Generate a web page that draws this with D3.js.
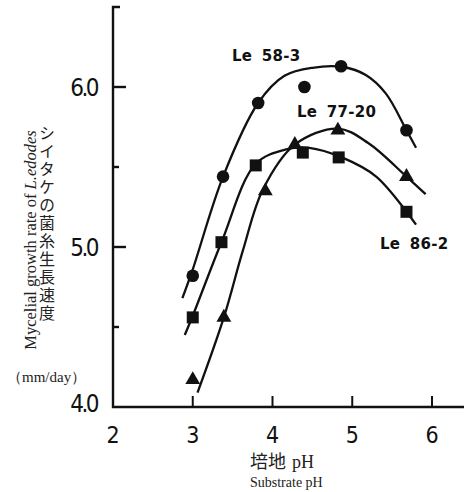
<!DOCTYPE html>
<html>
<head>
<meta charset="utf-8">
<script src="https://cdn.jsdelivr.net/npm/d3@7"></script>
<style>
  html, body { margin: 0; padding: 0; background: #fff; }
  svg { display: block; }
  .tick-num { font-family: "DejaVu Sans", sans-serif; font-stretch: condensed; fill: #111; }
  .serif { font-family: "Liberation Serif", "DejaVu Serif", serif; fill: #222; }
  .jp { font-family: "Noto Sans CJK JP", sans-serif; fill: #222; }
  .series-label { font-family: "DejaVu Sans", sans-serif; font-weight: bold; fill: #111; }
</style>
</head>
<body>
<div id="chart"></div>
<script>
// axis ticks
const phTicks = [2, 3, 4, 5, 6];
const rateMajor = [4.0, 5.0, 6.0];
const rateMinor = [4.5, 5.5];

// measured points [pH, mm/day]
const le583Points = [[3.0, 4.82], [3.38, 5.44], [3.82, 5.90], [4.4, 6.00], [4.86, 6.13], [5.68, 5.73]];
const le7720Points = [[3.0, 4.17], [3.39, 4.56], [3.91, 5.35], [4.28, 5.64], [4.82, 5.73], [5.68, 5.44]];
const le862Points = [[3.0, 4.56], [3.36, 5.03], [3.79, 5.51], [4.38, 5.59], [4.83, 5.56], [5.68, 5.22]];

// hand-drawn fitted curves
const le583Curve = [[2.87, 4.68], [3.0, 4.86], [3.38, 5.44], [3.82, 5.90], [4.15, 6.07], [4.5, 6.12],
  [4.88, 6.125], [5.17, 6.075], [5.42, 5.96], [5.68, 5.73], [5.8, 5.62]];
const le7720Curve = [[3.06, 4.09], [3.39, 4.56], [3.63, 4.98], [3.88, 5.36], [4.28, 5.64], [4.82, 5.74],
  [5.2, 5.65], [5.68, 5.44], [5.92, 5.33]];
const le862Curve = [[2.9, 4.45], [3.0, 4.57], [3.36, 5.03], [3.79, 5.52], [4.17, 5.61], [4.46, 5.62],
  [4.87, 5.56], [5.3, 5.44], [5.8, 5.14]];

const W = 464, H = 492;
const svg = d3.select("#chart").append("svg").attr("width", W).attr("height", H);

const x = d3.scaleLinear().domain([2, 6]).range([113, 432]);
const y = d3.scaleLinear().domain([4, 6]).range([407, 87]);

const axisColor = "#111";

// y axis line + top tick, x axis line
svg.append("path")
  .attr("d", `M${x(2) + 7},${y(6.5)} H${x(2)} V${y(4)} H${W}`)
  .attr("fill", "none").attr("stroke", axisColor).attr("stroke-width", 2.4);

// y ticks
svg.selectAll(".ymaj").data(rateMajor.filter(d => d > 4)).enter().append("line")
  .attr("x1", x(2)).attr("x2", x(2) + 13)
  .attr("y1", d => y(d)).attr("y2", d => y(d))
  .attr("stroke", axisColor).attr("stroke-width", 2.4);
svg.selectAll(".ymin").data(rateMinor).enter().append("line")
  .attr("x1", x(2)).attr("x2", x(2) + 6)
  .attr("y1", d => y(d)).attr("y2", d => y(d))
  .attr("stroke", axisColor).attr("stroke-width", 2.4);

// x ticks
svg.selectAll(".xt").data(phTicks.filter(d => d > 2)).enter().append("line")
  .attr("x1", d => x(d)).attr("x2", d => x(d))
  .attr("y1", y(4)).attr("y2", y(4) - 11)
  .attr("stroke", axisColor).attr("stroke-width", 2);

// tick labels
svg.selectAll(".yl").data(rateMajor).enter().append("text")
  .attr("class", "tick-num")
  .attr("x", 97).attr("y", d => y(d) + (d === 4 ? -4 : 0))
  .attr("dy", "0.36em")
  .attr("text-anchor", "end")
  .attr("font-size", 24)
  .attr("letter-spacing", -2.5)
  .text(d => d.toFixed(1));

svg.selectAll(".xl").data(phTicks).enter().append("text")
  .attr("class", "tick-num")
  .attr("x", d => x(d)).attr("y", 443)
  .attr("text-anchor", "middle")
  .attr("font-size", 23)
  .text(d => d);

// axis titles
const xt = svg.append("text").attr("x", 250).attr("y", 468).attr("font-size", 18);
xt.append("tspan").attr("class", "jp").text("培地");
xt.append("tspan").attr("class", "serif").attr("dx", 6).text("pH");
svg.append("text").attr("class", "serif").attr("x", 250).attr("y", 487)
  .attr("font-size", 14).text("Substrate pH");

const yt = svg.append("text").attr("class", "serif")
  .attr("transform", "translate(36,240) rotate(-90)")
  .attr("text-anchor", "middle").attr("font-size", 16.5);
yt.append("tspan").text("Mycelial growth rate of ");
yt.append("tspan").attr("font-style", "italic").text("L.edodes");

svg.append("text").attr("class", "jp")
  .attr("x", 47).attr("y", 125)
  .attr("font-size", 16)
  .attr("letter-spacing", 2)
  .style("writing-mode", "vertical-rl")
  .style("text-orientation", "upright")
  .text("シイタケの菌糸生長速度");

svg.append("text").attr("class", "serif").attr("x", 7).attr("y", 382)
  .attr("font-size", 15).text("（mm/day）");

// curves
const line = d3.line().x(d => x(d[0])).y(d => y(d[1])).curve(d3.curveCatmullRom.alpha(0.5));
[le583Curve, le7720Curve, le862Curve].forEach(c => {
  svg.append("path").attr("d", line(c))
    .attr("fill", "none").attr("stroke", "#111").attr("stroke-width", 2.3);
});

// markers
svg.selectAll(".c").data(le583Points).enter().append("circle")
  .attr("cx", d => x(d[0])).attr("cy", d => y(d[1])).attr("r", 6.3).attr("fill", "#111");
svg.selectAll(".s").data(le862Points).enter().append("rect")
  .attr("x", d => x(d[0]) - 6).attr("y", d => y(d[1]) - 6)
  .attr("width", 12).attr("height", 12).attr("fill", "#111");
const tri = d3.symbol().type(d3.symbolTriangle).size(95);
svg.selectAll(".t").data(le7720Points).enter().append("path")
  .attr("d", tri)
  .attr("transform", d => `translate(${x(d[0])},${y(d[1])})`)
  .attr("fill", "#111");

// series labels
const labels = [["Le 58-3", 232, 61], ["Le 77-20", 297, 117], ["Le 86-2", 380, 249]];
svg.selectAll(".lab").data(labels).enter().append("text")
  .attr("class", "series-label")
  .attr("x", d => d[1]).attr("y", d => d[2])
  .attr("font-size", 15)
  .attr("letter-spacing", 0.3)
  .attr("word-spacing", 4)
  .text(d => d[0]);
</script>
</body>
</html>
